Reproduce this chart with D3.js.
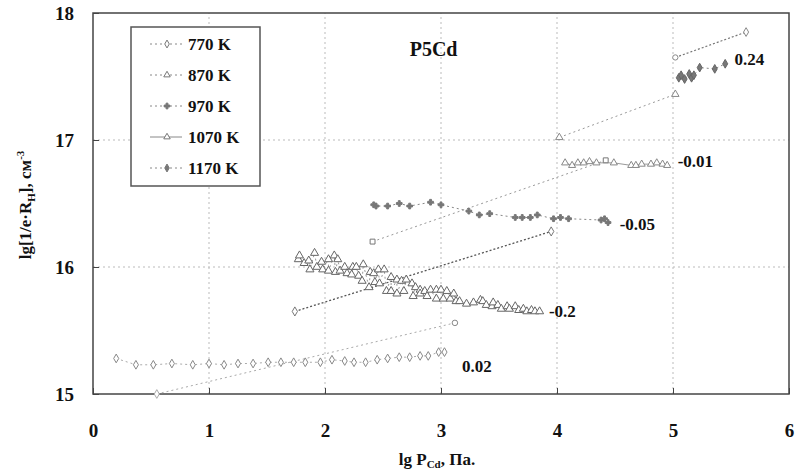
<!DOCTYPE html>
<html>
<head>
<meta charset="utf-8">
<script src="https://cdn.jsdelivr.net/npm/d3@7"></script>
<style>
  body { margin: 0; background: #fff; }
  text { font-family: "Liberation Serif", "DejaVu Serif", serif; font-weight: bold; }
</style>
</head>
<body>
<div id="chart"></div>
<script>
// data: [lg P, lg n]
var xTicks = [0, 1, 2, 3, 4, 5, 6];
var yTicks = [15, 16, 17, 18];

var s770 = [[0.20,15.28],[0.37,15.23],[0.52,15.23],[0.68,15.24],[0.86,15.23],[1.00,15.24],[1.13,15.23],
  [1.25,15.24],[1.38,15.24],[1.51,15.25],[1.62,15.25],[1.73,15.25],[1.83,15.25],[1.96,15.25],[2.06,15.27],
  [2.17,15.26],[2.25,15.25],[2.35,15.25],[2.45,15.27],[2.54,15.28],[2.64,15.29],[2.73,15.29],[2.82,15.30],
  [2.89,15.30],[2.98,15.33],[3.03,15.33]];

var s870 = [[1.77,16.06],[1.78,16.09],[1.82,16.03],[1.86,16.05],[1.87,15.98],[1.91,16.11],[1.93,16.00],
  [1.97,16.04],[1.98,15.98],[2.03,16.06],[2.03,15.97],[2.08,16.09],[2.09,15.96],[2.11,16.06],[2.13,15.97],
  [2.17,16.00],[2.19,15.95],[2.23,15.94],[2.24,16.00],[2.27,16.00],[2.29,15.93],[2.32,15.89],[2.33,16.02],
  [2.38,15.84],[2.39,15.96],[2.42,15.95],[2.43,15.88],[2.46,15.98],[2.47,15.87],[2.51,15.98],[2.53,15.81],
  [2.57,15.92],[2.57,15.81],[2.62,15.90],[2.62,15.79],[2.66,15.89],[2.68,15.81],[2.70,15.90],[2.75,15.87],
  [2.76,15.77],[2.78,15.84],[2.82,15.82],[2.82,15.79],[2.86,15.81],[2.88,15.77],[2.91,15.82],[2.96,15.75],
  [2.96,15.82],[3.00,15.82],[3.02,15.75],[3.05,15.81],[3.08,15.75],[3.11,15.79],[3.13,15.73],[3.16,15.73],
  [3.22,15.71],[3.28,15.72],[3.34,15.74],[3.36,15.73],[3.39,15.70],[3.44,15.69],[3.45,15.72],[3.49,15.70],
  [3.52,15.67],[3.57,15.69],[3.59,15.67],[3.64,15.69],[3.67,15.66],[3.71,15.67],[3.74,15.65],[3.78,15.66],
  [3.81,15.65],[3.85,15.65]];

var s970 = [[2.42,16.49],[2.44,16.48],[2.54,16.48],[2.64,16.50],[2.73,16.48],[2.91,16.51],[3.00,16.49],
  [3.24,16.44],[3.33,16.41],[3.42,16.42],[3.64,16.39],[3.70,16.39],[3.77,16.39],[3.83,16.41],[3.97,16.38],
  [4.03,16.39],[4.10,16.38],[4.38,16.37],[4.41,16.38],[4.44,16.35]];

var s1070 = [[4.07,16.82],[4.13,16.80],[4.18,16.82],[4.23,16.82],[4.28,16.83],[4.34,16.82],[4.49,16.82],
  [4.64,16.80],[4.68,16.80],[4.73,16.81],[4.81,16.81],[4.86,16.82],[4.91,16.81],[4.95,16.80]];

var s1170 = [[5.05,17.49],[5.07,17.51],[5.10,17.48],[5.14,17.52],[5.16,17.49],[5.18,17.51],[5.23,17.57],
  [5.36,17.56],[5.45,17.60]];

// straight fitted lines with end markers
var fitA = [[0.55,15.00],[3.12,15.56]];
var fitB = [[1.74,15.65],[3.95,16.28]];
var fitC = [[2.41,16.20],[4.42,16.84]];
var fitD = [[4.02,17.02],[5.02,17.36]];
var fitE = [[5.02,17.65],[5.63,17.85]];

var slopeText = ["0.02", "-0.2", "-0.05", "-0.01", "0.24"];
var slopeAt = [[3.18,15.17],[3.93,15.61],[4.54,16.29],[5.04,16.79],[5.53,17.59]];

var legendNames = ["770 K", "870 K", "970 K", "1070 K", "1170 K"];

var W = 797, H = 473;
var margin = {top: 13, right: 8, bottom: 79, left: 93};

var svg = d3.select("#chart").append("svg").attr("width", W).attr("height", H);

var x = d3.scaleLinear().domain([0, 6]).range([margin.left, W - margin.right]);
var y = d3.scaleLinear().domain([15, 18]).range([H - margin.bottom, margin.top]);

// grid
svg.append("g").selectAll("line").data(xTicks.slice(1, -1)).enter().append("line")
  .attr("x1", function(d) { return x(d); }).attr("x2", function(d) { return x(d); })
  .attr("y1", y(15)).attr("y2", y(18))
  .attr("stroke", "#bbb").attr("stroke-dasharray", "2,3");
svg.append("g").selectAll("line").data(yTicks.slice(1, -1)).enter().append("line")
  .attr("y1", function(d) { return y(d); }).attr("y2", function(d) { return y(d); })
  .attr("x1", x(0)).attr("x2", x(6))
  .attr("stroke", "#bbb").attr("stroke-dasharray", "2,3");

// axes
var xAxis = svg.append("g").attr("transform", "translate(0," + y(15) + ")")
  .call(d3.axisBottom(x).tickValues(xTicks).tickSize(-6).tickPadding(30).tickFormat(d3.format("d")));
var yAxis = svg.append("g").attr("transform", "translate(" + x(0) + ",0)")
  .call(d3.axisLeft(y).tickValues(yTicks).tickSize(-6).tickPadding(19).tickFormat(d3.format("d")));
[xAxis, yAxis].forEach(function(a) {
  a.select(".domain").remove();
  a.selectAll("line").attr("stroke", "#444");
  a.selectAll("text").attr("font-size", 19).attr("fill", "#111")
    .style("font-family", "Liberation Serif, serif").style("font-weight", "bold");
});

svg.append("rect").attr("x", x(0)).attr("y", y(18))
  .attr("width", x(6) - x(0)).attr("height", y(15) - y(18))
  .attr("fill", "none").attr("stroke", "#444").attr("stroke-width", 1.5);

var line = d3.line().x(function(d) { return x(d[0]); }).y(function(d) { return y(d[1]); });

function drawLine(data, color, dash, width) {
  svg.append("path").datum(data).attr("d", line)
    .attr("fill", "none").attr("stroke", color)
    .attr("stroke-width", width || 1).attr("stroke-dasharray", dash);
}

function drawMarks(data, type, size, stroke, fill) {
  svg.append("g").selectAll("path").data(data).enter().append("path")
    .attr("transform", function(d) { return "translate(" + x(d[0]) + "," + y(d[1]) + ")"; })
    .attr("d", d3.symbol().type(type).size(size))
    .attr("fill", fill).attr("stroke", stroke).attr("stroke-width", 1);
}

// fitted lines
drawLine(fitA, "#aaa", "2,3");
drawLine(fitB, "#555", "2,2", 1.3);
drawLine(fitC, "#999", "2,3");
drawLine(fitD, "#999", "2,3");
drawLine(fitE, "#777", "2,2", 1.2);

// series
drawLine(s770, "#aaa", "2,3");
drawLine(s870, "#999", "2,3");
drawLine(s970, "#888", "2,3");
drawLine(s1070, "#999", null);
drawLine(s1170, "#888", "2,3");

drawMarks(s770, d3.symbolDiamond, 22, "#888", "#fff");
drawMarks(s870, d3.symbolTriangle, 28, "#666", "#fff");
drawMarks(s970, d3.symbolCross, 18, "#777", "#777");
drawMarks(s1070, d3.symbolTriangle, 22, "#888", "#fff");
drawMarks(s1170, d3.symbolDiamond, 22, "#666", "#777");

drawMarks([fitA[1]], d3.symbolCircle, 24, "#888", "#fff");
drawMarks([fitA[0]], d3.symbolDiamond, 22, "#aaa", "#fff");
drawMarks(fitB, d3.symbolDiamond, 24, "#777", "#fff");
drawMarks(fitC, d3.symbolSquare, 24, "#777", "#fff");
drawMarks(fitD, d3.symbolTriangle, 24, "#888", "#fff");
drawMarks([fitE[0]], d3.symbolCircle, 22, "#888", "#fff");
drawMarks([fitE[1]], d3.symbolDiamond, 22, "#888", "#fff");

// slope labels
svg.append("g").selectAll("text").data(slopeText).enter().append("text")
  .attr("x", function(d, i) { return x(slopeAt[i][0]); })
  .attr("y", function(d, i) { return y(slopeAt[i][1]); })
  .attr("font-size", 17).attr("fill", "#111").text(function(d) { return d; });

svg.append("text").attr("x", x(2.73)).attr("y", y(17.66))
  .attr("font-size", 20).attr("fill", "#111").text("P5Cd");

// legend
var lg = svg.append("g").attr("transform", "translate(131,27)");
lg.append("rect").attr("width", 129).attr("height", 159)
  .attr("fill", "#fff").attr("stroke", "#555").attr("stroke-width", 1.5);
var legTypes = [d3.symbolDiamond, d3.symbolTriangle, d3.symbolCross, d3.symbolTriangle, d3.symbolDiamond];
var legFill = ["#fff", "#fff", "#777", "#fff", "#777"];
var legDash = ["2,3", "2,3", "2,3", null, "2,3"];
var item = lg.selectAll(".item").data(legendNames).enter().append("g")
  .attr("transform", function(d, i) { return "translate(0," + (17 + i * 31) + ")"; });
item.append("line").attr("x1", 19).attr("x2", 51)
  .attr("stroke", "#888").attr("stroke-dasharray", function(d, i) { return legDash[i]; });
item.append("path").attr("transform", "translate(36,0)")
  .attr("d", function(d, i) { return d3.symbol().type(legTypes[i]).size(18)(); })
  .attr("fill", function(d, i) { return legFill[i]; }).attr("stroke", "#777");
item.append("text").attr("x", 57).attr("y", 6).attr("font-size", 17).attr("fill", "#111")
  .text(function(d) { return d; });

// axis titles
var xt = svg.append("text").attr("x", 437).attr("y", 465).attr("text-anchor", "middle")
  .attr("font-size", 17).attr("fill", "#111");
xt.append("tspan").text("lg P");
xt.append("tspan").attr("dy", 3).attr("font-size", 11).text("Cd");
xt.append("tspan").attr("dy", -3).text(", Па.");

var yt = svg.append("text").attr("transform", "translate(31," + 205 + ") rotate(-90)")
  .attr("text-anchor", "middle").attr("font-size", 17).attr("fill", "#111");
yt.append("tspan").text("lg[1/e·R");
yt.append("tspan").attr("dy", 4).attr("font-size", 11).text("H");
yt.append("tspan").attr("dy", -4).text("], см");
yt.append("tspan").attr("dy", -7).attr("font-size", 11).text("-3");
</script>
</body>
</html>
